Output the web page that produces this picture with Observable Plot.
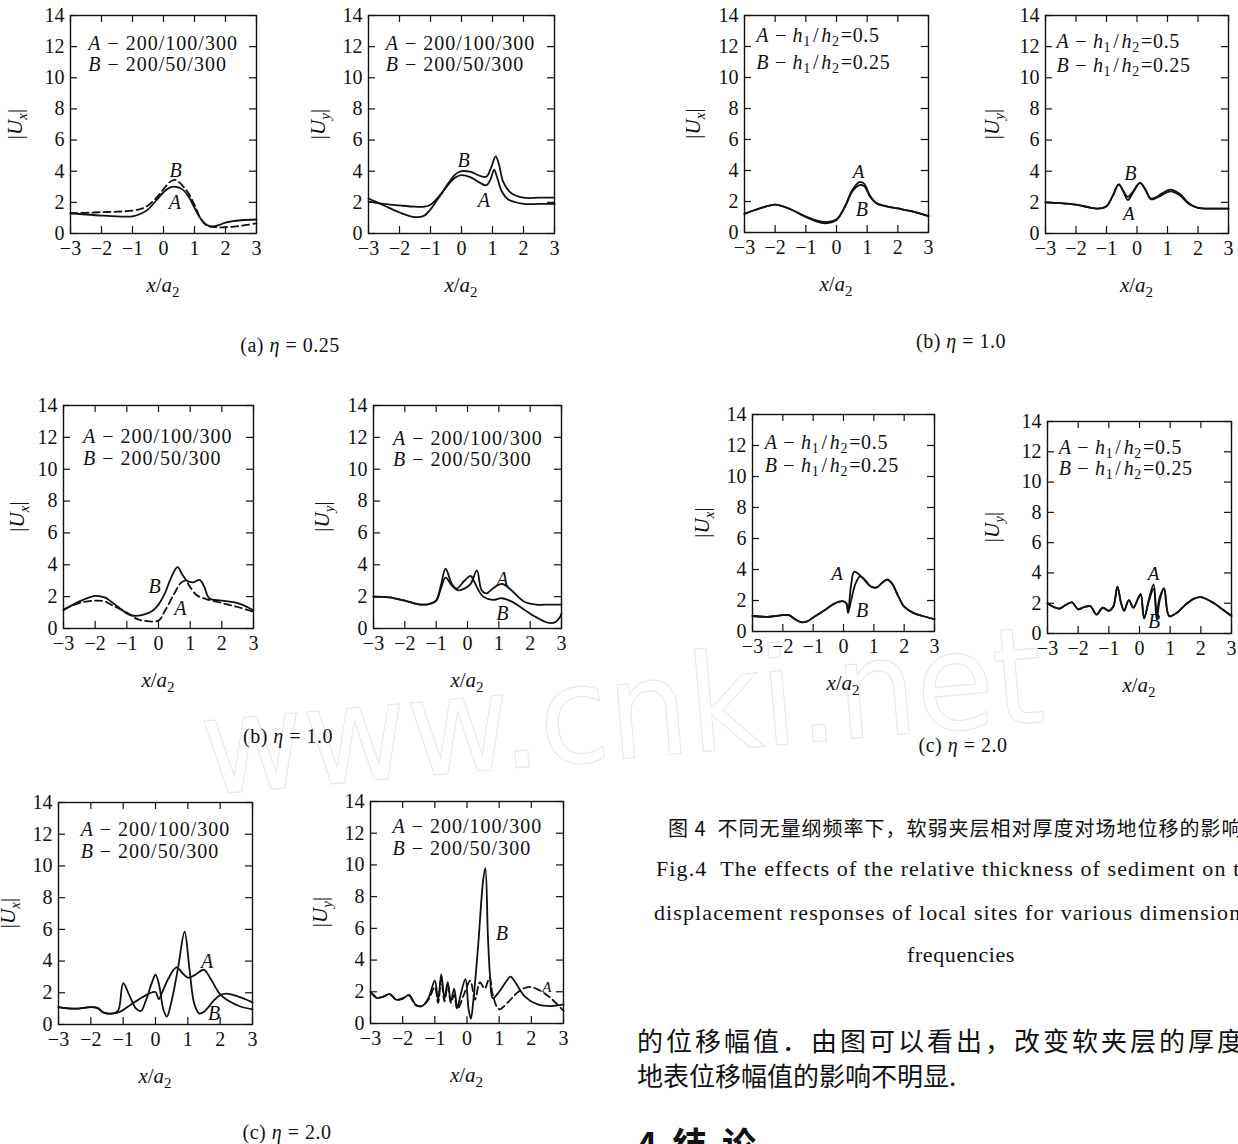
<!DOCTYPE html>
<html><head><meta charset="utf-8">
<script src="https://cdn.jsdelivr.net/npm/d3@7"></script>
<script src="https://cdn.jsdelivr.net/npm/@observablehq/plot@0.6"></script>
<style>
html,body{margin:0;padding:0;background:#fff;}
#page{position:relative;width:1238px;height:1144px;overflow:hidden;background:#fff;color:#111;}
.t{position:absolute;white-space:nowrap;line-height:1;}
</style></head><body><div id="page"></div>
<script>
// ---------- data ----------
const xTicks = [-3,-2,-1,0,1,2,3];
const yTicks = [0,2,4,6,8,10,12,14];
const legendNum = ["200/100/300","200/50/300"];
const legendRatio = ["0.5","0.25"];

// (a) eta=0.25 (left column, top)
const ux025A = [[-3,1.3],[-2.5,1.22],[-2,1.15],[-1.5,1.1],[-1,1.1],[-0.7,1.3],[-0.5,1.55],[-0.2,2.2],[0,2.65],[0.2,2.95],[0.4,3.0],[0.6,2.85],[0.8,2.4],[1.0,1.65],[1.2,0.95],[1.4,0.55],[1.6,0.45],[1.8,0.55],[2.0,0.7],[2.5,0.85],[3,0.9]];
const ux025B = [[-3,1.3],[-2.5,1.33],[-2,1.37],[-1.5,1.4],[-1,1.47],[-0.7,1.6],[-0.5,1.8],[-0.2,2.35],[0,2.85],[0.2,3.3],[0.35,3.45],[0.5,3.3],[0.8,2.6],[1.0,1.85],[1.2,0.95],[1.4,0.5],[1.6,0.42],[2.0,0.4],[2.5,0.5],[3,0.65]];
const uy025A = [[-3,2.25],[-2.5,1.8],[-2,1.35],[-1.5,1.05],[-1.2,1.15],[-1,1.55],[-0.7,2.4],[-0.4,3.2],[-0.2,3.6],[0,3.75],[0.3,3.6],[0.6,3.25],[0.8,3.1],[0.95,3.55],[1.05,4.1],[1.15,3.6],[1.3,2.7],[1.5,2.2],[2,1.9],[2.5,1.9],[3,1.9]];
const uy025B = [[-3,2.05],[-2.5,1.9],[-2,1.8],[-1.5,1.72],[-1.2,1.72],[-1,1.85],[-0.7,2.45],[-0.4,3.3],[-0.2,3.8],[0,4.0],[0.3,3.95],[0.6,3.7],[0.8,3.65],[0.95,4.2],[1.1,4.95],[1.2,4.5],[1.35,3.3],[1.6,2.6],[2,2.3],[2.5,2.3],[3,2.3]];

// (b) eta=1.0 (right column, top) : h1/h2
const uxR10A = [[-3,1.2],[-2.5,1.55],[-2,1.8],[-1.5,1.5],[-1,1.0],[-0.5,0.62],[-0.3,0.6],[0,0.8],[0.3,1.8],[0.5,2.7],[0.75,3.25],[0.9,3.15],[1.1,2.35],[1.3,1.9],[1.6,1.7],[2,1.55],[2.5,1.35],[3,1.05]];
const uxR10B = [[-3,1.2],[-2.5,1.55],[-2,1.8],[-1.5,1.5],[-1,1.02],[-0.5,0.7],[-0.3,0.68],[0,0.85],[0.3,1.75],[0.5,2.6],[0.75,3.05],[0.9,3.0],[1.1,2.3],[1.3,1.88],[1.6,1.7],[2,1.55],[2.5,1.35],[3,1.05]];
const uyR10A = [[-3,2.0],[-2.5,1.95],[-2,1.85],[-1.5,1.65],[-1.3,1.6],[-1,1.75],[-0.8,2.4],[-0.6,3.15],[-0.45,2.7],[-0.3,2.15],[-0.15,2.55],[0.1,3.25],[0.25,2.9],[0.45,2.2],[0.6,2.25],[0.8,2.45],[1.1,2.7],[1.4,2.45],[1.7,1.9],[2,1.65],[2.5,1.6],[3,1.6]];
const uyR10B = [[-3,2.0],[-2.5,1.95],[-2,1.85],[-1.5,1.65],[-1.3,1.6],[-1,1.75],[-0.8,2.4],[-0.6,3.15],[-0.45,2.75],[-0.3,2.35],[-0.15,2.65],[0.1,3.25],[0.25,2.9],[0.45,2.25],[0.6,2.3],[0.8,2.55],[1.1,2.82],[1.4,2.55],[1.7,1.95],[2,1.65],[2.5,1.6],[3,1.6]];

// (b) eta=1.0 (left column, middle)
const ux10A = [[-3,1.2],[-2.5,1.6],[-2,1.75],[-1.7,1.7],[-1.5,1.5],[-1,1.0],[-0.7,0.62],[-0.5,0.5],[0,0.5],[0.2,1.1],[0.5,2.2],[0.7,2.85],[0.85,3.0],[1.0,2.6],[1.2,2.1],[1.5,1.85],[2,1.6],[2.5,1.35],[3,1.05]];
const ux10B = [[-3,1.15],[-2.5,1.7],[-2,2.05],[-1.7,1.95],[-1.5,1.7],[-1,0.95],[-0.8,0.8],[-0.5,0.85],[-0.2,1.1],[0,1.5],[0.2,2.2],[0.4,3.2],[0.6,3.85],[0.75,3.4],[0.9,3.0],[1.1,2.9],[1.3,3.05],[1.45,2.6],[1.6,1.9],[2,1.75],[2.5,1.6],[3,1.15]];
const uy10A = [[-3,2.0],[-2.5,1.95],[-2,1.75],[-1.5,1.5],[-1.2,1.55],[-1,1.75],[-0.85,2.5],[-0.7,3.2],[-0.5,2.7],[-0.3,2.4],[-0.1,2.5],[0.1,2.8],[0.3,3.65],[0.45,2.4],[0.6,2.2],[0.8,2.5],[1.1,2.8],[1.4,2.4],[1.8,1.7],[2.2,1.5],[2.6,1.5],[3,1.5]];
const uy10B = [[-3,2.0],[-2.5,1.95],[-2,1.75],[-1.5,1.5],[-1.2,1.55],[-1,1.75],[-0.85,2.7],[-0.7,3.75],[-0.5,2.8],[-0.35,2.5],[-0.1,3.0],[0.1,3.3],[0.2,3.0],[0.35,2.4],[0.5,2.0],[0.8,1.8],[1.1,1.9],[1.4,1.7],[1.8,1.2],[2.2,0.7],[2.6,0.35],[2.8,0.4],[2.95,0.7],[3,0.95]];

// (c) eta=2.0 (right column, middle) : h1/h2
const uxR20A = [[-3,1.0],[-2.5,0.95],[-2,1.05],[-1.8,1.05],[-1.6,0.8],[-1.4,0.6],[-1.2,0.65],[-1,0.9],[-0.6,1.4],[-0.3,1.8],[0,1.95],[0.1,1.8],[0.15,1.3],[0.25,3.0],[0.35,3.85],[0.5,3.7],[0.7,3.3],[0.9,2.9],[1.1,2.85],[1.3,3.2],[1.45,3.35],[1.6,3.1],[1.8,2.3],[2,1.6],[2.3,1.2],[2.6,1.0],[3,0.8]];
const uxR20B = [[-3,1.0],[-2.5,0.95],[-2,1.05],[-1.8,1.05],[-1.6,0.8],[-1.4,0.6],[-1.2,0.65],[-1,0.9],[-0.6,1.4],[-0.3,1.8],[0,1.95],[0.1,1.8],[0.15,1.2],[0.25,2.0],[0.4,3.1],[0.55,3.55],[0.7,3.35],[0.9,2.9],[1.1,2.85],[1.3,3.2],[1.45,3.35],[1.6,3.1],[1.8,2.3],[2,1.6],[2.3,1.2],[2.6,1.0],[3,0.8]];
const uyR20A = [[-3,2.0],[-2.8,1.75],[-2.6,1.65],[-2.4,1.9],[-2.2,2.05],[-2.0,1.6],[-1.8,1.75],[-1.6,1.8],[-1.4,1.25],[-1.2,1.7],[-1.0,1.5],[-0.85,1.8],[-0.72,3.1],[-0.6,2.0],[-0.5,1.5],[-0.35,2.2],[-0.2,1.7],[-0.05,2.3],[0.04,2.6],[0.15,1.0],[0.3,2.2],[0.46,3.25],[0.56,1.4],[0.66,2.4],[0.8,3.0],[0.97,1.15],[1.24,1.4],[1.5,1.9],[1.78,2.3],[2.0,2.4],[2.43,2.0],[2.7,1.6],[3,1.15]];
const uyR20B = [[-3,2.0],[-2.8,1.75],[-2.6,1.65],[-2.4,1.9],[-2.2,2.05],[-2.0,1.6],[-1.8,1.75],[-1.6,1.8],[-1.4,1.25],[-1.2,1.7],[-1.0,1.5],[-0.85,1.8],[-0.72,3.1],[-0.6,2.0],[-0.5,1.5],[-0.35,2.2],[-0.2,1.7],[-0.05,2.3],[0.04,2.6],[0.15,1.0],[0.3,2.1],[0.46,2.95],[0.56,0.95],[0.66,2.2],[0.8,2.95],[0.97,1.15],[1.24,1.4],[1.5,1.9],[1.78,2.3],[2.0,2.4],[2.43,2.0],[2.7,1.6],[3,1.15]];

// (c) eta=2.0 (left column, bottom)
const ux20A = [[-3,1.1],[-2.5,1.0],[-2,1.1],[-1.8,1.05],[-1.6,0.75],[-1.3,0.7],[-1.1,0.8],[-0.8,1.2],[-0.5,1.6],[-0.2,1.95],[0,2.05],[0.1,1.6],[0.2,2.0],[0.4,2.9],[0.65,3.6],[0.85,3.2],[1.0,2.95],[1.2,3.1],[1.5,3.45],[1.7,2.9],[2.0,1.9],[2.3,1.45],[2.6,1.15],[3.0,0.95]];
const ux20B = [[-3,1.1],[-2.5,1.0],[-2,1.1],[-1.8,1.05],[-1.6,0.75],[-1.3,0.7],[-1.15,0.9],[-1.0,2.6],[-0.8,1.8],[-0.6,1.0],[-0.45,0.85],[-0.3,1.5],[-0.1,2.7],[0,3.15],[0.1,2.6],[0.25,0.9],[0.35,0.5],[0.5,1.5],[0.7,3.6],[0.9,5.85],[1.05,3.5],[1.2,1.3],[1.35,0.7],[1.5,0.8],[1.8,1.5],[2.0,1.85],[2.2,1.95],[2.5,1.8],[3.0,1.4]];
const uy20A = [[-3,2.0],[-2.8,1.65],[-2.6,1.7],[-2.4,1.85],[-2.2,1.5],[-2.0,1.6],[-1.8,1.75],[-1.6,1.15],[-1.4,1.1],[-1.2,1.5],[-1.0,2.3],[-0.9,1.3],[-0.8,2.8],[-0.7,1.4],[-0.6,2.4],[-0.5,1.3],[-0.4,1.8],[-0.3,0.9],[-0.1,1.8],[0.1,2.7],[0.25,1.5],[0.4,2.6],[0.55,2.2],[0.7,2.9],[0.8,1.8],[1.0,0.9],[1.3,1.4],[1.6,2.0],[1.9,2.3],[2.2,2.15],[2.6,1.6],[3.0,0.8]];
const uy20B = [[-3,2.0],[-2.8,1.6],[-2.6,1.7],[-2.4,1.85],[-2.2,1.5],[-2.0,1.55],[-1.8,1.8],[-1.6,1.2],[-1.4,1.1],[-1.2,1.6],[-1.0,2.7],[-0.9,1.5],[-0.8,3.1],[-0.7,1.6],[-0.6,2.6],[-0.5,1.4],[-0.4,2.2],[-0.3,1.0],[-0.2,1.8],[-0.05,2.8],[0.05,0.9],[0.12,0.3],[0.2,1.5],[0.35,5.0],[0.5,9.0],[0.57,9.8],[0.65,5.5],[0.72,2.9],[0.8,1.6],[1.0,2.0],[1.2,2.6],[1.35,2.95],[1.5,2.6],[1.8,1.7],[2.2,1.2],[2.6,1.1],[3.0,1.2]];

// ---------- layout ----------
const FONT = '"Liberation Serif", "Times New Roman", serif';
const CJK = '"Noto Sans CJK SC", sans-serif';
const page = document.getElementById("page");

const panels = [
  {box:[70,15,256,233],  comp:"x", A:ux025A, B:ux025B, dash:"B", leg:"num",   lx:-2.41, ly:[12.2,10.85], labs:[["B",0.39,4.06,20],["A",0.37,2.0,20]], yo:55},
  {box:[368,15,554,233], comp:"y", A:uy025A, B:uy025B, dash:null, leg:"num",  lx:-2.43, ly:[12.2,10.85], labs:[["B",0.07,4.7,20],["A",0.72,2.1,20]], yo:50},
  {box:[744,15,928,232], comp:"x", A:uxR10A, B:uxR10B, dash:null, leg:"ratio",lx:-2.6,  ly:[12.7,11.0], labs:[["A",0.72,3.9,19],["B",0.83,1.45,20]], yo:51},
  {box:[1045,15,1228,233],comp:"y",A:uyR10A, B:uyR10B, dash:null, leg:"ratio",lx:-2.62, ly:[12.3,10.8], labs:[["B",-0.22,3.85,20],["A",-0.27,1.28,19]], yo:53},
  {box:[63,405,253,628], comp:"x", A:ux10A, B:ux10B, dash:"A", leg:"num",     lx:-2.37, ly:[12.05,10.7], labs:[["B",-0.12,2.6,20],["A",0.69,1.25,20]], yo:46},
  {box:[373,405,561,628],comp:"y", A:uy10A, B:uy10B, dash:null, leg:"num",    lx:-2.36, ly:[11.95,10.6], labs:[["A",1.11,3.1,20],["B",1.11,0.95,20]], yo:51},
  {box:[752,414,934,631],comp:"x", A:uxR20A, B:uxR20B, dash:null, leg:"ratio",lx:-2.58, ly:[12.2,10.7], labs:[["A",-0.21,3.7,19],["B",0.61,1.35,20]], yo:50},
  {box:[1047,421,1231,633],comp:"y",A:uyR20A,B:uyR20B, dash:null, leg:"ratio",lx:-2.62, ly:[12.3,10.9], labs:[["A",0.46,3.96,19],["B",0.48,0.77,20]], yo:55},
  {box:[58,802,252,1024],comp:"x", A:ux20A, B:ux20B, dash:null, leg:"num",    lx:-2.3,  ly:[12.3,10.9], labs:[["A",1.6,3.94,20],["B",1.81,0.7,20]], yo:50},
  {box:[370,801,563,1023],comp:"y",A:uy20A, B:uy20B, dash:"A", leg:"num",     lx:-2.3,  ly:[12.4,11.05], labs:[["B",1.08,5.66,20],["A",2.48,2.3,15]], yo:50}
];

function tsp(t, txt, attrs={}) {
  const s = t.append("tspan").text(txt);
  for (const k in attrs) s.attr(k, attrs[k]);
  return s;
}

// watermark (behind)
const wm = d3.select(page).append("svg").attr("width",1238).attr("height",1144)
  .style("position","absolute").style("left","0").style("top","0");
wm.append("text").text("www.cnki.net")
  .attr("x", 205).attr("y", 795).attr("font-family", '"DejaVu Sans", sans-serif').attr("font-size", 135)
  .attr("textLength", 845).attr("lengthAdjust","spacingAndGlyphs")
  .attr("fill","none").attr("stroke","#e6e6e6").attr("stroke-width",1)
  .attr("transform","rotate(-5 205 795)");

function drawPanel(p) {
  const [L,T,R,Bt] = p.box;
  const w = R-L, h = Bt-T;
  const mL=80, mR=16, mT=16, mB=80;
  const ink = "#111";
  const lines = [["A",p.A],["B",p.B]].map(([k,d]) =>
    Plot.line(d, {x:v=>v[0], y:v=>v[1], curve:"catmull-rom", stroke:ink, strokeWidth:1.8,
      strokeDasharray: p.dash===k ? "7,4" : null}));
  const plot = Plot.plot({
    width: mL+w+mR, height: mT+h+mB,
    marginLeft:mL, marginRight:mR, marginTop:mT, marginBottom:mB,
    x:{domain:[-3,3]}, y:{domain:[0,14]},
    style:{fontFamily:FONT, fontSize:"20px", background:"transparent", overflow:"visible", color:ink},
    marks:[
      ...lines,
      Plot.tickX(xTicks, {x:d=>d, insetTop:h-7, stroke:ink, strokeWidth:1.2}),
      Plot.tickX(xTicks, {x:d=>d, insetBottom:h-7, stroke:ink, strokeWidth:1.2}),
      Plot.tickY(yTicks, {y:d=>d, insetRight:w-7, stroke:ink, strokeWidth:1.2}),
      Plot.tickY(yTicks, {y:d=>d, insetLeft:w-7, stroke:ink, strokeWidth:1.2}),
      Plot.frame({stroke:ink, strokeWidth:1.4}),
      Plot.axisX(xTicks, {anchor:"bottom", tickSize:0, tickPadding:7, label:null, fontSize:20, fill:ink}),
      Plot.axisY(yTicks, {anchor:"left", tickSize:0, tickPadding:6, label:null, fontSize:20, fill:ink}),
      Plot.text(p.labs, {x:d=>d[1], y:d=>d[2], text:d=>d[0], fontSize:d=>d[3], fontStyle:"italic", fill:ink})
    ]
  });
  plot.style.position = "absolute";
  plot.style.left = (L-mL)+"px";
  plot.style.top = (T-mT)+"px";
  page.appendChild(plot);

  const sxo = plot.scale("x"), syo = plot.scale("y");
  const X = d3.scaleLinear(sxo.domain, sxo.range), Y = d3.scaleLinear(syo.domain, syo.range);
  const svg = d3.select(plot);
  const g = svg.append("g").attr("font-family", FONT).attr("fill", ink);

  // legend
  p.ly.forEach((yv,i) => {
    const t = g.append("text").attr("x", X(p.lx)).attr("y", Y(yv)).attr("dy","0.35em")
      .attr("text-anchor","start").attr("font-size", 20)
      .attr("letter-spacing", p.leg === "num" ? "1" : "0.7");
    tsp(t, i===0 ? "A" : "B", {"font-style":"italic"});
    if (p.leg === "num") {
      tsp(t, " \u2212 " + legendNum[i]);
    } else {
      tsp(t, " \u2212 ");
      tsp(t, "h", {"font-style":"italic"});
      tsp(t, "1", {"font-size":14, dy:4});
      tsp(t, "/", {dy:-4, dx:2});
      tsp(t, "h", {"font-style":"italic", dx:2});
      tsp(t, "2", {"font-size":14, dy:4});
      tsp(t, "=" + legendRatio[i], {dy:-4, dx:1});
    }
  });
  // y label
  const yl = g.append("text").attr("text-anchor","middle").attr("font-size",21)
    .attr("transform", `translate(${mL-p.yo},${mT+h/2}) rotate(-90)`).attr("dy","0.35em");
  tsp(yl, "|");
  tsp(yl, "U", {"font-style":"italic"});
  tsp(yl, p.comp, {"font-style":"italic","font-size":15, dy:5});
  tsp(yl, "|", {dy:-5});
  // x label
  const xl = g.append("text").attr("text-anchor","middle").attr("font-size",21)
    .attr("x", mL+w/2).attr("y", mT+h+52).attr("dy","0.35em");
  tsp(xl, "x", {"font-style":"italic"});
  tsp(xl, "/");
  tsp(xl, "a", {"font-style":"italic"});
  tsp(xl, "2", {"font-size":15, dy:5});
}

panels.forEach(drawPanel);

function addText(html, {left, cx, cy, size, family=FONT, weight="normal", ls="0px"}) {
  const d = document.createElement("div");
  d.className = "t";
  d.innerHTML = html;
  d.style.fontFamily = family;
  d.style.fontSize = size+"px";
  d.style.fontWeight = weight;
  d.style.letterSpacing = ls;
  d.style.top = (cy - size/2)+"px";
  if (cx !== undefined) { d.style.left = cx+"px"; d.style.transform = "translateX(-50%)"; }
  else d.style.left = left+"px";
  page.appendChild(d);
}

// subfigure captions
addText("(a) <i>η</i> = 0.25", {cx:290, cy:345, size:20, ls:"0.5px"});
addText("(b) <i>η</i> = 1.0", {cx:288, cy:736, size:20, ls:"0.5px"});
addText("(c) <i>η</i> = 2.0", {cx:287, cy:1132, size:20, ls:"0.5px"});
addText("(b) <i>η</i> = 1.0", {cx:961, cy:341, size:20, ls:"0.5px"});
addText("(c) <i>η</i> = 2.0", {cx:963, cy:745, size:20, ls:"0.5px"});

// figure caption
addText("图 4&nbsp; 不同无量纲频率下，软弱夹层相对厚度对场地位移的影响", {left:668, cy:828, size:20, family:CJK, ls:"1px"});
addText("Fig.4&nbsp; The effects of the relative thickness of sediment on the", {left:656, cy:869, size:22, ls:"1.1px"});
addText("displacement responses of local sites for various dimensionless", {left:654, cy:913, size:22, ls:"1.1px"});
addText("frequencies", {cx:961, cy:955, size:22, ls:"0.6px"});

// body text
addText("的位移幅值．由图可以看出，改变软夹层的厚度对", {left:637, cy:1040, size:26, family:CJK, ls:"3px"});
addText("地表位移幅值的影响不明显.", {left:637, cy:1075, size:26, family:CJK});
addText("4&nbsp; 结&nbsp; 论", {left:637, cy:1143, size:34, family:CJK, weight:"bold"});
</script></body></html>
